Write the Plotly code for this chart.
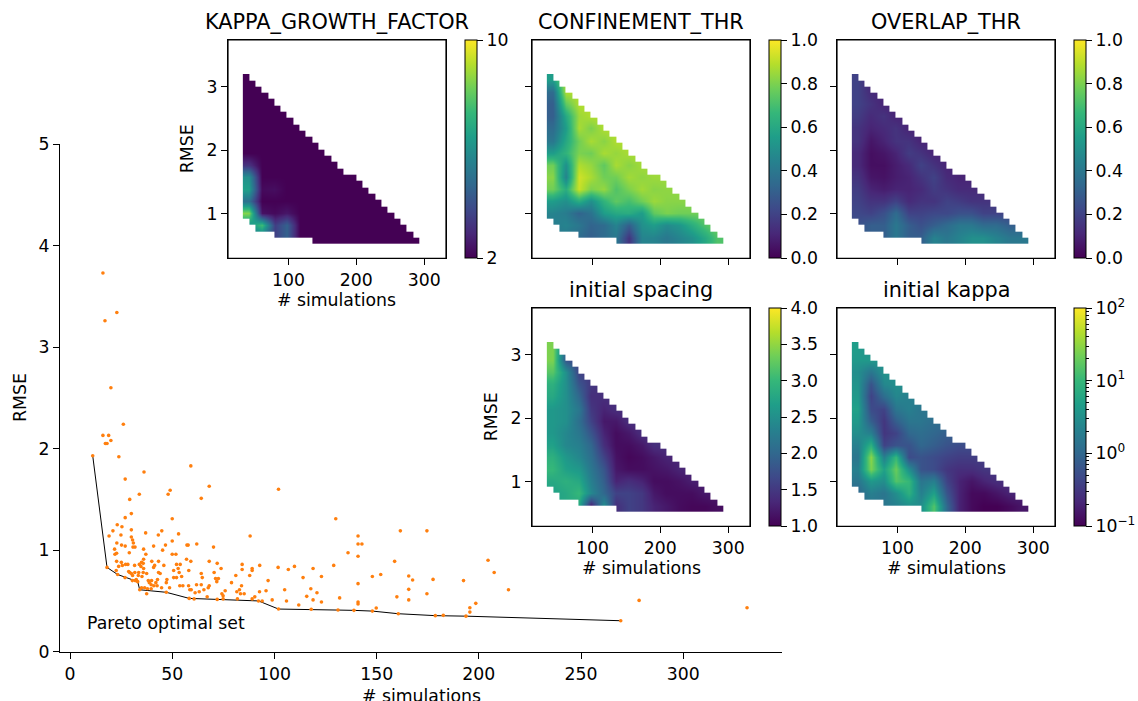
import numpy as np
import plotly.graph_objects as go

W, H = 1138, 701

# ---------------- data: main scatter ----------------
pareto_sims = [11.1, 18.1, 23.3, 31.9, 33.1, 34.1, 47.1, 58.3, 72.0, 92.2, 102.0, 118.0,
               131.1, 138.9, 147.9, 160.6, 178.7, 193.7, 269.4]
pareto_rmse = [1.93, 0.83, 0.76, 0.70, 0.69, 0.61, 0.585, 0.525, 0.515, 0.50, 0.42, 0.418,
               0.41, 0.407, 0.40, 0.374, 0.355, 0.35, 0.305]

other_sims = [16.1, 17.1, 22.9, 20.0, 26.1,
              16.1, 18.9, 17.3, 18.1, 20.0, 23.9, 27.0, 33.9, 29.2, 36.2, 59.1, 48.0, 49.0, 50.0,
              53.1, 68.1, 64.2, 102.0, 88.1, 130.0, 140.9, 140.9, 142.8, 136.0, 140.9, 158.8, 129.0,
              118.9, 109.8, 106.8, 101.8, 123.0, 147.9, 152.0, 114.0, 140.9, 117.8, 120.8, 131.9,
              159.9, 105.0, 105.9, 111.9, 118.9, 123.0, 140.9, 140.9, 149.8, 98.9, 95.9, 96.9,
              92.8, 89.1, 89.1, 92.7, 94.0, 90.4, 89.1, 87.9, 84.2, 84.2, 85.2, 83.4, 83.9, 82.9,
              81.6, 81.9, 81.1, 79.0, 74.9, 74.9, 75.9, 74.3, 73.9, 72.0, 72.6, 71.2, 71.8, 70.5,
              70.2, 68.1, 68.1, 67.6, 67.1, 65.5, 64.2, 64.7, 64.2, 63.2, 62.0, 61.9, 61.2, 60.7,
              59.1, 58.1, 57.2, 57.8, 58.6, 59.3, 58.0, 57.0, 53.9, 52.1, 53.4, 50.7, 52.9, 52.1,
              54.6, 53.7, 55.2, 50.7, 50.0, 51.8, 50.0, 46.7, 44.9, 43.2, 43.3, 41.4, 40.9, 40.0,
              43.3, 44.1, 42.8, 45.9, 45.3, 40.9, 41.0, 42.6, 42.0, 39.7, 38.8, 38.3, 39.9, 39.7,
              36.5, 37.9, 47.4, 47.1, 48.7, 44.8, 37.0, 36.0, 37.1, 36.0, 35.8, 33.9, 34.7, 35.0,
              36.0, 33.6, 35.8, 37.5, 35.2, 33.4, 35.0, 31.8, 30.8, 30.6, 31.0, 30.0, 30.0, 30.0,
              27.0, 25.4, 24.9, 23.1, 21.0, 19.1, 21.8, 22.0, 22.8, 22.9, 25.2, 27.0, 29.0, 25.1,
              22.8, 23.8, 25.6, 27.2, 28.3, 29.2, 30.0, 30.6, 31.7, 22.6, 26.9, 28.7, 31.6, 32.4,
              30.5, 37.5,
              161.6, 174.6, 165.7, 167.6, 177.6, 192.5, 204.5, 207.5, 214.5, 115.8, 165.7, 165.7,
              174.6, 182.6, 195.6, 195.6, 198.5, 278.4, 331.2]
other_rmse = [3.73, 3.26, 3.34, 2.60, 2.24,
              2.13, 2.13, 2.05, 2.05, 2.08, 1.92, 1.70, 1.55, 1.50, 1.77, 1.83, 1.55, 1.59, 1.31,
              1.16, 1.63, 1.51, 1.60, 1.14, 1.31, 1.14, 1.06, 1.06, 0.975, 0.94, 0.89, 0.85,
              0.82, 0.84, 0.81, 0.83, 0.74, 0.74, 0.76, 0.73, 0.67, 0.62, 0.58, 0.53,
              0.54, 0.61, 0.50, 0.46, 0.51, 0.49, 0.49, 0.47, 0.43, 0.51, 0.60, 0.70,
              0.85, 0.82, 0.80, 0.59, 0.50, 0.54, 0.52, 0.75, 0.86, 0.81, 0.57, 0.57, 0.65, 0.61,
              0.59, 0.52, 0.75, 0.68, 0.55, 0.52, 0.60, 0.57, 0.82, 0.87, 0.72, 0.72, 0.69, 0.78,
              1.03, 0.89, 0.65, 0.63, 0.54, 0.61, 0.77, 0.73, 0.66, 0.59, 1.06, 0.66, 0.58, 0.52,
              0.89, 0.80, 1.05, 1.05, 0.61, 0.61, 0.65, 0.91, 0.86, 0.86, 0.78, 0.80, 0.82, 0.73,
              0.74, 0.65, 0.65, 0.73, 0.96, 0.96, 1.09, 1.05, 1.19, 1.15, 0.89, 0.85, 0.83, 0.89,
              0.78, 0.77, 0.71, 0.85, 1.00, 1.04, 0.65, 0.65, 0.68, 0.66, 0.68, 0.70, 0.70, 0.62,
              0.63, 0.62, 0.71, 0.68, 0.63, 0.63, 1.17, 1.01, 0.96, 0.91, 0.87, 0.86, 0.84, 0.88,
              0.82, 0.78, 0.78, 0.77, 0.74, 0.75, 0.63, 1.03, 1.03, 1.10, 1.07, 1.13, 1.20, 1.36,
              1.32, 1.23, 1.15, 1.25, 1.19, 1.14, 1.01, 0.96, 0.97, 1.07, 1.05, 1.04, 0.975, 0.88,
              0.89, 0.84, 0.85, 0.86, 0.86, 0.78, 0.77, 0.75, 0.78, 0.80, 0.73, 0.79, 0.85, 0.71,
              0.70, 0.57,
              1.19, 1.19, 0.745, 0.706, 0.712, 0.70, 0.90, 0.78, 0.61, 0.545, 0.614, 0.51,
              0.57, 0.358, 0.433, 0.39, 0.476, 0.505, 0.433]

# ---------------- data: interpolated parameter maps ----------------
grid_sims = [42.0, 60.6, 79.1, 97.7, 116.3, 134.9, 153.4, 172.0, 190.6, 209.1, 227.7, 246.3, 264.8, 283.4]
grid_rmse = [3.104, 2.914, 2.724, 2.533, 2.343, 2.152, 1.962, 1.772, 1.581, 1.391, 1.201, 1.010, 0.820, 0.629]  # top -> bottom

kappa_growth = [
    [2, 2, 2, 2, 2, 2, 2, 2, 2, 2, 2, 2, 2, 2],
    [2, 2, 2, 2, 2, 2, 2, 2, 2, 2, 2, 2, 2, 2],
    [2, 2, 2, 2, 2, 2, 2, 2, 2, 2, 2, 2, 2, 2],
    [2, 2, 2, 2, 2, 2, 2, 2, 2, 2, 2, 2, 2, 2],
    [2, 2, 2, 2, 2, 2, 2, 2, 2, 2, 2, 2, 2, 2],
    [2, 2, 2, 2, 2, 2, 2, 2, 2, 2, 2, 2, 2, 2],
    [2, 2, 2, 2, 2, 2, 2, 2, 2, 2, 2, 2, 2, 2],
    [3.2, 2, 2, 2, 2, 2, 2, 2, 2, 2, 2, 2, 2, 2],
    [6.0, 2.0, 2, 2, 2, 2, 2, 2, 2, 2, 2, 2, 2, 2],
    [6.5, 2.2, 2.3, 2, 2, 2, 2, 2, 2, 2, 2, 2, 2, 2],
    [5.0, 2.0, 2, 2, 2, 2, 2, 2, 2, 2, 2, 2, 2, 2],
    [8.5, 2.4, 2.2, 2.5, 2, 2, 2, 2, 2, 2, 2, 2, 2, 2],
    [6.0, 7.5, 3.5, 4.5, 2, 2, 2, 2, 2, 2, 2, 2, 2, 2],
    [5.0, 5.0, 3.5, 4.5, 2, 2, 2, 2, 2, 2, 2, 2, 2, 2],
]

confinement_thr = [
    [0.55, 0.88, 0.88, 0.88, 0.88, 0.88, 0.88, 0.88, 0.88, 0.88, 0.88, 0.88, 0.88, 0.88],
    [0.35, 0.88, 0.88, 0.88, 0.88, 0.88, 0.88, 0.88, 0.88, 0.88, 0.88, 0.88, 0.88, 0.88],
    [0.30, 0.75, 0.88, 0.88, 0.88, 0.88, 0.88, 0.88, 0.88, 0.88, 0.88, 0.88, 0.88, 0.88],
    [0.30, 0.60, 0.85, 0.88, 0.88, 0.88, 0.88, 0.88, 0.88, 0.88, 0.88, 0.88, 0.88, 0.88],
    [0.35, 0.55, 0.87, 0.80, 0.88, 0.88, 0.88, 0.88, 0.88, 0.88, 0.88, 0.88, 0.88, 0.88],
    [0.40, 0.60, 0.78, 0.87, 0.82, 0.88, 0.88, 0.88, 0.88, 0.88, 0.88, 0.88, 0.88, 0.88],
    [0.55, 0.65, 0.80, 0.78, 0.87, 0.84, 0.87, 0.87, 0.87, 0.87, 0.87, 0.87, 0.87, 0.87],
    [0.78, 0.50, 0.88, 0.84, 0.75, 0.87, 0.82, 0.86, 0.86, 0.86, 0.86, 0.86, 0.86, 0.86],
    [0.82, 0.45, 0.93, 0.87, 0.78, 0.78, 0.86, 0.83, 0.85, 0.85, 0.85, 0.85, 0.85, 0.85],
    [0.78, 0.62, 0.92, 0.80, 0.84, 0.72, 0.80, 0.86, 0.82, 0.83, 0.83, 0.83, 0.83, 0.83],
    [0.55, 0.50, 0.62, 0.50, 0.65, 0.75, 0.70, 0.78, 0.85, 0.82, 0.82, 0.82, 0.82, 0.82],
    [0.45, 0.42, 0.32, 0.38, 0.55, 0.60, 0.62, 0.55, 0.75, 0.80, 0.78, 0.78, 0.78, 0.78],
    [0.42, 0.45, 0.40, 0.32, 0.35, 0.45, 0.30, 0.50, 0.55, 0.48, 0.52, 0.62, 0.72, 0.78],
    [0.40, 0.40, 0.35, 0.30, 0.35, 0.40, 0.15, 0.45, 0.45, 0.40, 0.45, 0.50, 0.60, 0.72],
]

overlap_thr = [
    [0.20, 0.10, 0.10, 0.10, 0.10, 0.10, 0.10, 0.10, 0.10, 0.10, 0.10, 0.10, 0.10, 0.10],
    [0.20, 0.12, 0.10, 0.10, 0.10, 0.10, 0.10, 0.10, 0.10, 0.10, 0.10, 0.10, 0.10, 0.10],
    [0.20, 0.15, 0.10, 0.10, 0.10, 0.10, 0.10, 0.10, 0.10, 0.10, 0.10, 0.10, 0.10, 0.10],
    [0.18, 0.12, 0.15, 0.10, 0.10, 0.10, 0.10, 0.10, 0.10, 0.10, 0.10, 0.10, 0.10, 0.10],
    [0.15, 0.10, 0.12, 0.15, 0.10, 0.10, 0.10, 0.10, 0.10, 0.10, 0.10, 0.10, 0.10, 0.10],
    [0.15, 0.06, 0.10, 0.15, 0.15, 0.10, 0.10, 0.10, 0.10, 0.10, 0.10, 0.10, 0.10, 0.10],
    [0.12, 0.04, 0.06, 0.10, 0.18, 0.15, 0.10, 0.10, 0.10, 0.10, 0.10, 0.10, 0.10, 0.10],
    [0.12, 0.04, 0.04, 0.08, 0.12, 0.20, 0.15, 0.10, 0.10, 0.10, 0.10, 0.10, 0.10, 0.10],
    [0.15, 0.06, 0.05, 0.08, 0.10, 0.15, 0.20, 0.12, 0.10, 0.10, 0.10, 0.10, 0.10, 0.10],
    [0.18, 0.10, 0.08, 0.10, 0.10, 0.12, 0.18, 0.15, 0.12, 0.12, 0.12, 0.12, 0.12, 0.12],
    [0.20, 0.15, 0.15, 0.20, 0.12, 0.15, 0.15, 0.20, 0.18, 0.15, 0.15, 0.15, 0.15, 0.15],
    [0.22, 0.20, 0.25, 0.35, 0.20, 0.20, 0.22, 0.22, 0.25, 0.25, 0.20, 0.20, 0.20, 0.20],
    [0.25, 0.30, 0.30, 0.40, 0.30, 0.25, 0.30, 0.35, 0.40, 0.40, 0.35, 0.35, 0.30, 0.30],
    [0.30, 0.30, 0.30, 0.40, 0.30, 0.30, 0.45, 0.40, 0.45, 0.50, 0.50, 0.45, 0.40, 0.40],
]

initial_spacing = [
    [3.4, 2.0, 1.6, 1.5, 1.5, 1.5, 1.5, 1.5, 1.5, 1.5, 1.5, 1.5, 1.5, 1.5],
    [3.4, 1.8, 1.6, 1.5, 1.5, 1.5, 1.5, 1.5, 1.5, 1.5, 1.5, 1.5, 1.5, 1.5],
    [3.2, 2.5, 1.6, 1.5, 1.5, 1.5, 1.5, 1.5, 1.5, 1.5, 1.5, 1.5, 1.5, 1.5],
    [2.9, 2.5, 1.8, 1.5, 1.4, 1.4, 1.4, 1.4, 1.4, 1.4, 1.4, 1.4, 1.4, 1.4],
    [2.8, 2.5, 2.0, 1.4, 1.4, 1.4, 1.4, 1.4, 1.4, 1.4, 1.4, 1.4, 1.4, 1.4],
    [2.6, 2.5, 2.2, 1.5, 1.3, 1.4, 1.4, 1.4, 1.4, 1.4, 1.4, 1.4, 1.4, 1.4],
    [2.6, 2.5, 2.1, 1.6, 1.2, 1.2, 1.4, 1.4, 1.4, 1.4, 1.4, 1.4, 1.4, 1.4],
    [2.6, 2.4, 2.2, 1.8, 1.3, 1.1, 1.2, 1.4, 1.4, 1.4, 1.4, 1.4, 1.4, 1.4],
    [2.7, 2.4, 2.3, 2.0, 1.4, 1.1, 1.1, 1.2, 1.4, 1.4, 1.4, 1.4, 1.4, 1.4],
    [2.9, 2.6, 2.4, 2.1, 1.6, 1.15, 1.05, 1.1, 1.2, 1.3, 1.3, 1.3, 1.3, 1.3],
    [3.0, 2.7, 2.6, 2.2, 1.8, 1.2, 1.1, 1.1, 1.15, 1.2, 1.3, 1.3, 1.3, 1.3],
    [2.8, 2.9, 2.8, 2.3, 1.9, 1.3, 1.4, 1.3, 1.1, 1.1, 1.15, 1.25, 1.25, 1.25],
    [2.7, 2.8, 3.0, 2.4, 2.0, 1.6, 1.6, 1.5, 1.2, 1.1, 1.1, 1.1, 1.2, 1.2],
    [2.7, 2.8, 2.8, 1.2, 2.5, 1.4, 1.6, 1.5, 1.3, 1.2, 1.1, 1.05, 1.05, 1.1],
]

initial_kappa = [
    [4.5, 3.0, 3.0, 3.0, 3.0, 3.0, 3.0, 3.0, 3.0, 3.0, 3.0, 3.0, 3.0, 3.0],
    [4.0, 4.0, 3.0, 3.0, 3.0, 3.0, 3.0, 3.0, 3.0, 3.0, 3.0, 3.0, 3.0, 3.0],
    [3.0, 1.5, 3.5, 3.0, 3.0, 3.0, 3.0, 3.0, 3.0, 3.0, 3.0, 3.0, 3.0, 3.0],
    [3.5, 0.6, 2.5, 3.0, 3.0, 3.0, 3.0, 3.0, 3.0, 3.0, 3.0, 3.0, 3.0, 3.0],
    [4.0, 0.4, 1.2, 2.5, 2.0, 2.0, 2.0, 2.0, 2.0, 2.0, 2.0, 2.0, 2.0, 2.0],
    [5.0, 0.5, 0.4, 1.5, 2.0, 1.5, 1.5, 1.5, 1.5, 1.5, 1.5, 1.5, 1.5, 1.5],
    [4.0, 0.8, 0.3, 0.8, 1.5, 1.5, 1.2, 1.2, 1.2, 1.2, 1.2, 1.2, 1.2, 1.2],
    [3.0, 2.0, 0.3, 0.4, 1.0, 1.2, 1.0, 0.8, 0.8, 0.8, 0.8, 0.8, 0.8, 0.8],
    [2.0, 8.0, 0.4, 0.6, 0.6, 1.0, 0.8, 0.6, 0.5, 0.5, 0.5, 0.5, 0.5, 0.5],
    [1.5, 30.0, 2.0, 10.0, 0.5, 0.6, 0.5, 0.4, 0.35, 0.35, 0.35, 0.35, 0.35, 0.35],
    [2.0, 25.0, 5.0, 20.0, 3.0, 0.6, 0.5, 0.3, 0.25, 0.25, 0.3, 0.3, 0.3, 0.3],
    [1.5, 4.0, 3.0, 15.0, 10.0, 1.5, 2.0, 0.4, 0.2, 0.15, 0.2, 0.25, 0.25, 0.25],
    [1.0, 2.0, 1.5, 3.0, 8.0, 2.0, 5.0, 0.6, 0.2, 0.12, 0.12, 0.15, 0.2, 0.2],
    [1.0, 1.5, 1.5, 2.0, 3.0, 3.0, 15.0, 1.0, 0.2, 0.12, 0.1, 0.1, 0.12, 0.15],
]

# convex hull of the interpolation, on the fine interpolation grid (with a one-cell blank border)
hull_grid_sims = [28.06, 37.34, 46.63, 55.91, 65.20, 74.48, 83.77, 93.05, 102.34, 111.62, 120.91,
                  130.19, 139.48, 148.76, 158.05, 167.33, 176.62, 185.90, 195.19, 204.47, 213.76,
                  223.04, 232.33, 241.61, 250.90, 260.18, 269.47, 278.75, 288.04, 297.33]
hull_grid_rmse = [3.249, 3.150, 3.054, 2.955, 2.856, 2.757, 2.658, 2.559, 2.460, 2.361, 2.262, 2.163,
                  2.064, 1.965, 1.866, 1.767, 1.668, 1.569, 1.469, 1.370, 1.271, 1.172, 1.073,
                  0.974, 0.875, 0.776, 0.677, 0.578, 0.479]  # top -> bottom
# first / last-exclusive hull row of each hull column (rows counted from the top)
hull_top_row = [None, 1, 2, 3, 4, 5, 6, 7, 8, 9, 10, 11, 12, 13, 14, 15, 16, 17, 17, 18, 19, 20, 21,
                22, 23, 24, 25, 26, 27, None]
hull_bottom_row = [None, 24, 25, 26, 26, 26, 27, 27, 27, 27, 27, 27, 28, 28, 28, 28, 28, 28, 28, 28,
                   28, 28, 28, 28, 28, 28, 28, 28, 28, None]

# ---------------- helpers ----------------
FONT = "DejaVu Sans"
FS = 17.3
TFS = 20.8


def px2x(p):
    return p / W


def px2y(p):
    return 1 - p / H


mask_z = []
for r in range(len(hull_grid_rmse)):
    row = []
    for j in range(len(hull_grid_sims)):
        t, b = hull_top_row[j], hull_bottom_row[j]
        inside = t is not None and t <= r < b
        row.append(None if inside else 1)
    mask_z.append(row)
mask_z = mask_z[::-1]
mask_y = hull_grid_rmse[::-1]
grid_y = grid_rmse[::-1]

fig = go.Figure()

# main scatter
all_sims = other_sims + pareto_sims
all_rmse = other_rmse + pareto_rmse
fig.add_trace(go.Scatter(x=pareto_sims, y=pareto_rmse, mode="lines",
                         line=dict(color="black", width=1), hoverinfo="skip",
                         xaxis="x", yaxis="y", showlegend=False))
fig.add_trace(go.Scatter(x=all_sims, y=all_rmse, mode="markers",
                         marker=dict(color="#ff7f0e", size=3.6, line=dict(width=0)),
                         xaxis="x", yaxis="y", showlegend=False))

panels = [
    ("2", kappa_growth, 2, 10, False, 228, 40, "KAPPA_GROWTH_FACTOR"),
    ("3", confinement_thr, 0, 1, False, 532, 40, "CONFINEMENT_THR"),
    ("4", overlap_thr, 0, 1, False, 837, 40, "OVERLAP_THR"),
    ("5", initial_spacing, 1, 4, False, 532, 308, "initial spacing"),
    ("6", initial_kappa, -1, 2, True, 837, 308, "initial kappa"),
]
PW, PH = 218, 218.3

annotations = []
shapes = []
layout_axes = {}
for key, data, zmin, zmax, is_log, xl, yt, title in panels:
    z = data[::-1]
    if is_log:
        z = np.log10(np.array(z, dtype=float)).tolist()
    cb = dict(x=px2x(xl + PW + 19), xanchor="left", xpad=0,
              y=px2y(yt), yanchor="top", ypad=0,
              len=PH, lenmode="pixels", thickness=12, thicknessmode="pixels",
              outlinewidth=1, outlinecolor="black", ticks="outside", ticklen=6,
              tickwidth=1.2, tickcolor="black", tickfont=dict(size=FS, color="black", family=FONT))
    if key == "2":
        cb.update(tickmode="array", tickvals=[2, 10], ticktext=["2", "10"])
    elif key in ("3", "4"):
        cb.update(tickmode="array", tickvals=[0, 0.2, 0.4, 0.6, 0.8, 1.0], tickformat=".1f")
    elif key == "5":
        cb.update(tickmode="array", tickvals=[1.0, 1.5, 2.0, 2.5, 3.0, 3.5, 4.0], tickformat=".1f")
    else:
        cb.update(tickmode="array", tickvals=[-1, 0, 1, 2],
                  ticktext=["10<sup>−1</sup>", "10<sup>0</sup>", "10<sup>1</sup>", "10<sup>2</sup>"])
    fig.add_trace(go.Heatmap(x=grid_sims, y=grid_y, z=z, zmin=zmin, zmax=zmax,
                             colorscale="Viridis", zsmooth="best", colorbar=cb,
                             xaxis="x" + key, yaxis="y" + key, hoverinfo="skip"))
    fig.add_trace(go.Heatmap(x=hull_grid_sims, y=mask_y, z=mask_z, zmin=0, zmax=1,
                             colorscale=[[0, "white"], [1, "white"]], showscale=False,
                             zsmooth=False, xaxis="x" + key, yaxis="y" + key, hoverinfo="skip"))
    if is_log:
        minor = []
        for dec in (0.1, 1, 10):
            for m in range(2, 10):
                minor.append(float(np.log10(m * dec)))
        fig.add_trace(go.Scatter(x=[None], y=[None], mode="markers", showlegend=False,
                                 xaxis="x" + key, yaxis="y" + key, hoverinfo="skip",
                                 marker=dict(color=[0], cmin=-1, cmax=2, showscale=True,
                                             colorscale=[[0, "rgba(0,0,0,0)"], [1, "rgba(0,0,0,0)"]],
                                             colorbar=dict(x=px2x(xl + PW + 19), xanchor="left", xpad=0,
                                                           y=px2y(yt), yanchor="top", ypad=0,
                                                           len=PH, lenmode="pixels", thickness=12,
                                                           thicknessmode="pixels", outlinewidth=0,
                                                           ticks="outside", ticklen=3.5, tickwidth=1,
                                                           tickcolor="black", tickmode="array",
                                                           tickvals=minor, showticklabels=False))))
    show_x_labels = key in ("2", "5", "6")
    show_y_labels = key in ("2", "5")
    common = dict(showline=True, linecolor="black", linewidth=1.2, mirror=True, ticks="outside",
                  ticklen=6, tickwidth=1.2, tickcolor="black", showgrid=False, zeroline=False,
                  tickfont=dict(size=FS, color="black", family=FONT))
    layout_axes["xaxis" + key] = dict(common, domain=[px2x(xl), px2x(xl + PW)], range=[11, 332],
                                      anchor="y" + key, tickmode="array", tickvals=[100, 200, 300],
                                      showticklabels=show_x_labels)
    layout_axes["yaxis" + key] = dict(common, domain=[px2y(yt + PH), px2y(yt)], range=[0.304, 3.733],
                                      anchor="x" + key, tickmode="array", tickvals=[1, 2, 3],
                                      showticklabels=show_y_labels)
    shapes.append(dict(type="rect", xref="x" + key + " domain", yref="y" + key + " domain",
                       x0=0, x1=1, y0=0, y1=1, line=dict(color="black", width=1.2),
                       fillcolor="rgba(0,0,0,0)", layer="above"))
    cx = xl + PW / 2
    annotations.append(dict(text=title, x=px2x(cx), y=px2y(yt - 18), xref="paper", yref="paper",
                            xanchor="center", yanchor="middle", showarrow=False,
                            font=dict(size=TFS, color="black", family=FONT)))
    if show_x_labels:
        annotations.append(dict(text="# simulations", x=px2x(cx), y=px2y(yt + PH + 42),
                                xref="paper", yref="paper", xanchor="center", yanchor="middle",
                                showarrow=False, font=dict(size=FS, color="black", family=FONT)))
    if show_y_labels:
        annotations.append(dict(text="RMSE", x=px2x(xl - 41), y=px2y(yt + PH / 2), xref="paper",
                                yref="paper", xanchor="center", yanchor="middle", textangle=-90,
                                showarrow=False, font=dict(size=FS, color="black", family=FONT)))

annotations.append(dict(text="RMSE", x=px2x(20), y=px2y(398), xref="paper", yref="paper",
                        xanchor="center", yanchor="middle", textangle=-90, showarrow=False,
                        font=dict(size=FS, color="black", family=FONT)))
annotations.append(dict(text="# simulations", x=px2x(421), y=px2y(696), xref="paper", yref="paper",
                        xanchor="center", yanchor="middle", showarrow=False,
                        font=dict(size=FS, color="black", family=FONT)))
annotations.append(dict(text="Pareto optimal set", x=7.3, y=0.283, xref="x", yref="y",
                        xanchor="left", yanchor="middle", showarrow=False,
                        font=dict(size=FS, color="black", family=FONT)))

main_common = dict(showline=True, linecolor="black", linewidth=1.2, ticks="outside", ticklen=6,
                   tickwidth=1.2, tickcolor="black", showgrid=False, zeroline=False,
                   tickfont=dict(size=FS, color="black", family=FONT))

fig.update_layout(
    width=W, height=H, autosize=False,
    margin=dict(l=0, r=0, t=0, b=0, pad=0, autoexpand=False),
    paper_bgcolor="white", plot_bgcolor="white",
    font=dict(family=FONT, size=FS, color="black"),
    showlegend=False,
    xaxis=dict(main_common, domain=[px2x(60), px2x(782)], range=[-4.9, 348.3], anchor="y",
               tickmode="array", tickvals=[0, 50, 100, 150, 200, 250, 300]),
    yaxis=dict(main_common, domain=[px2y(651.7), px2y(144)], range=[0, 5], anchor="x",
               tickmode="array", tickvals=[0, 1, 2, 3, 4, 5]),
    annotations=annotations,
    shapes=shapes,
    **layout_axes,
)

fig.write_html("out.html")
